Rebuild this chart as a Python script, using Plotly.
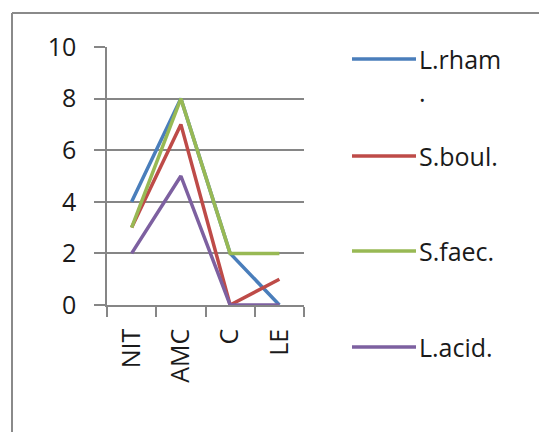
import plotly.graph_objects as go

# Test categories and results per strain
categories = ["NIT", "AMC", "C", "LE"]
series_names = ["L.rham<br>.", "S.boul.", "S.faec.", "L.acid."]
l_rham = [4, 8, 2, 0]
s_boul = [3, 7, 0, 1]
s_faec = [3, 8, 2, 2]
l_acid = [2, 5, 0, 0]
y_ticks = [0, 2, 4, 6, 8, 10]

series_values = [l_rham, s_boul, s_faec, l_acid]
colors = ["#4A7EBB", "#BE4B48", "#98B954", "#7D60A0"]

W, H = 539, 432
# plot area in pixels
PL, PR, PT, PB = 107, 304, 47, 305

FONT = "Open Sans"
TXT = "#1a1a1a"
GRID = "#868686"

fig = go.Figure()
for name, vals, col in zip(series_names, series_values, colors):
    fig.add_trace(go.Scatter(
        x=categories, y=vals, mode="lines", name=name,
        line=dict(color=col, width=3.5), showlegend=False,
    ))


def px_x(px):
    return (px - PL) / (PR - PL)


def px_y(py):
    return (PB - py) / (PB - PT)


shapes = []
annotations = []
# outer chart border (open on right and bottom)
shapes.append(dict(type="line", xref="paper", yref="paper",
                   x0=px_x(12), x1=px_x(560), y0=px_y(13), y1=px_y(13),
                   line=dict(color="#8a8a8a", width=2)))
shapes.append(dict(type="line", xref="paper", yref="paper",
                   x0=px_x(12), x1=px_x(12), y0=px_y(13), y1=px_y(460),
                   line=dict(color="#8a8a8a", width=2)))

# legend: key line + label for each series
legend_rows = [59, 156, 251, 347]
for name, col, ry in zip(series_names, colors, legend_rows):
    shapes.append(dict(type="line", xref="paper", yref="paper",
                       x0=px_x(352), x1=px_x(416), y0=px_y(ry), y1=px_y(ry),
                       line=dict(color=col, width=3.5)))
    annotations.append(dict(xref="paper", yref="paper",
                            x=px_x(417), y=px_y(ry - 19),
                            xanchor="left", yanchor="top", align="left",
                            text=name, showarrow=False,
                            font=dict(family=FONT, size=25, color=TXT)))

fig.update_layout(
    width=W, height=H,
    margin=dict(l=PL, r=W - PR, t=PT, b=H - PB),
    paper_bgcolor="white", plot_bgcolor="white",
    showlegend=False,
    shapes=shapes, annotations=annotations,
    font=dict(family=FONT, size=25, color=TXT),
    xaxis=dict(
        type="category", categoryorder="array", categoryarray=categories,
        range=[-0.5, 3.5], tickson="boundaries",
        ticks="outside", ticklen=10, tickwidth=1.5, tickcolor=GRID,
        showline=True, linecolor=GRID, linewidth=1.5,
        showgrid=False, tickangle=-90, zeroline=False,
        ticklabelstandoff=12,
        tickfont=dict(family=FONT, size=25, color=TXT),
    ),
    yaxis=dict(
        range=[0, 10], tickmode="array", tickvals=y_ticks,
        ticks="outside", ticklen=11, tickwidth=1.5, tickcolor=GRID,
        showline=True, linecolor=GRID, linewidth=1.5,
        showgrid=True, gridcolor=GRID, gridwidth=1.5, zeroline=False,
        ticklabelstandoff=13,
        tickfont=dict(family=FONT, size=25, color=TXT),
    ),
)

fig.write_html("out.html")
